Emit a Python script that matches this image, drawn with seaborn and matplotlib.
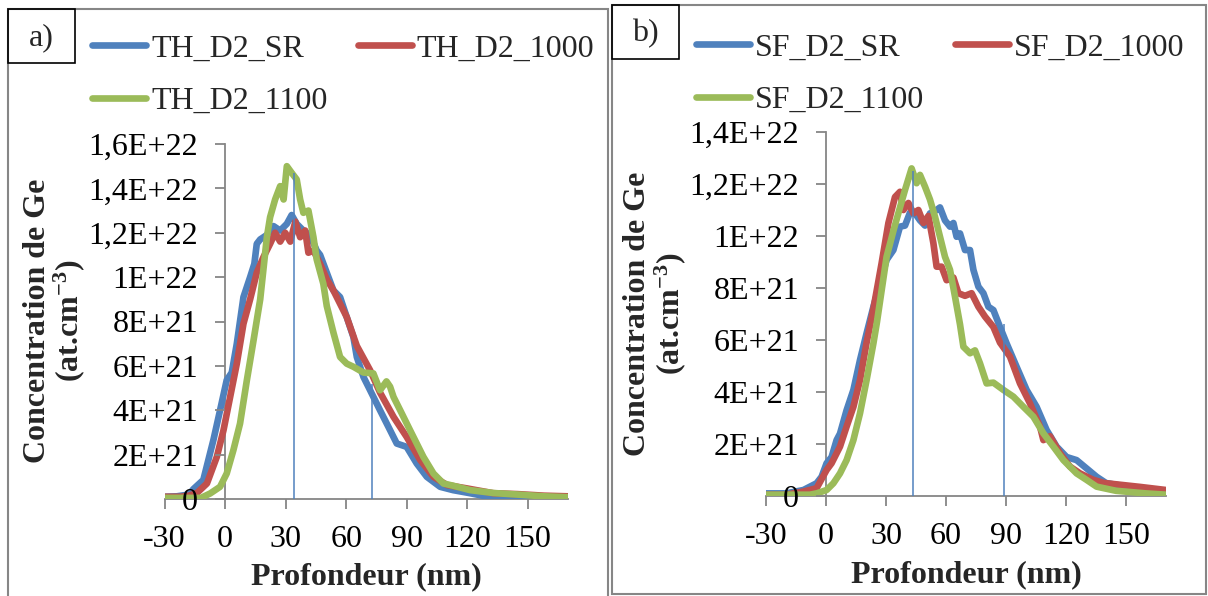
import matplotlib
matplotlib.use("Agg")
import matplotlib.pyplot as plt
import seaborn as sns
import pandas as pd
from matplotlib.patches import Rectangle
from matplotlib.lines import Line2D

# ---------------- data (concentration in units of 1E21 at.cm-3) ----------------
series_a_names = ["TH_D2_SR", "TH_D2_1000", "TH_D2_1100"]
series_b_names = ["SF_D2_SR", "SF_D2_1000", "SF_D2_1100"]

blue_a_x = [-30, -24, -18, -15.7, -10.8, -5.8, -2.5, 0.8, 3.3, 5.8, 9.1, 12.4, 14.5, 15.7, 17.4, 20.7, 24, 27.3,
            30.6, 33, 35.5, 38.8, 42.1, 45.4, 47.1, 50.4, 53.7, 57, 60.3, 63.6, 65.3, 68.6, 71.9, 76.8, 81.8, 85.1,
            90, 95, 100, 106.6, 113, 121.5, 133, 145, 158, 170]
blue_a_y = [0.1, 0.12, 0.2, 0.45, 0.86, 2.66, 4.0, 5.36, 5.7, 7.0, 9.1, 10.0, 10.6, 11.5, 11.7, 11.9, 12.3, 12.1,
            12.4, 12.8, 12.4, 12.1, 11.9, 11.2, 11.0, 10.2, 9.4, 9.1, 8.2, 7.3, 6.4, 5.5, 4.9, 4.0, 3.1, 2.5,
            2.35, 1.6, 1.0, 0.55, 0.4, 0.26, 0.05, 0.12, 0.08, 0.1]

red_a_x = [-30, -22, -18, -14, -9, -4.1, -0.8, 2.5, 5.8, 9.1, 12.4, 15.7, 19, 22.3, 24.8, 27.3, 29.8, 32.3, 34.8,
           37.2, 39.7, 41.3, 43.8, 47.1, 50.4, 53.7, 57, 60.3, 65.3, 71.9, 76.8, 83.5, 90, 96.7, 103.3, 110, 119.7,
           133, 145, 158, 170]
red_a_y = [0.1, 0.1, 0.15, 0.27, 0.7, 1.9, 3.1, 4.6, 6.1, 7.9, 9.0, 10.2, 10.9, 11.5, 12.0, 11.6, 12.0, 11.6, 12.5,
           11.8, 12.1, 11.1, 11.2, 10.6, 9.9, 9.4, 8.8, 8.2, 6.9, 5.8, 4.8, 3.7, 2.8, 1.76, 1.0, 0.63, 0.48,
           0.26, 0.22, 0.15, 0.12]

green_a_x = [-30, -20, -12, -7.4, -2.5, 0.8, 4.1, 7.4, 10.8, 14, 17.4, 20.7, 22.3, 24.8, 27.3, 29, 30.6, 33, 35.5,
             37.2, 38.8, 41.3, 43.8, 45.4, 48.7, 50.4, 53.7, 57, 60.3, 63.6, 68.6, 73.5, 76.8, 80, 81.8, 83.5, 86.8,
             91.7, 98.3, 103.3, 108.2, 113, 121.5, 133, 145, 158, 170]
green_a_y = [0.05, 0.05, 0.05, 0.25, 0.55, 1.15, 2.2, 3.4, 5.36, 7.1, 9.0, 11.8, 12.7, 13.5, 14.1, 13.5, 15.0, 14.7,
             14.4, 13.5, 12.9, 13.0, 11.8, 10.8, 9.7, 8.7, 7.5, 6.4, 6.1, 5.96, 5.7, 5.66, 4.9, 5.3, 5.06, 4.6, 4.0,
             3.1, 1.9, 1.15, 0.7, 0.6, 0.4, 0.27, 0.2, 0.12, 0.08]

blue_b_x = [-30, -20, -11.3, -4.7, -2.2, 0.3, 2.8, 5.3, 7, 10.3, 13.7, 17, 20.3, 23.7, 27, 30.3, 33.7, 37, 39.5, 42,
            44.5, 47, 49.5, 52, 55.3, 57, 59.5, 62, 63.7, 65.3, 67, 69.5, 72, 73.7, 76.2, 78.7, 81.2, 83.7, 87, 90.3,
            95.3, 100.3, 105.3, 110.3, 115.3, 120.3, 125.3, 130.3, 135.3, 140, 154.5, 170]
blue_b_y = [0.1, 0.1, 0.23, 0.49, 0.74, 1.26, 1.5, 2.15, 2.4, 3.3, 4.08, 5.23, 6.26, 7.28, 8.18, 9.08, 9.46, 10.36,
            10.4, 10.9, 10.87, 10.6, 10.4, 10.87, 11.0, 11.1, 10.6, 10.36, 10.5, 9.97, 10.1, 9.46, 9.46, 8.7, 8.05,
            7.8, 7.28, 7.15, 6.5, 5.87, 4.97, 4.08, 3.43, 2.54, 1.9, 1.5, 1.38, 1.06, 0.74, 0.5, 0.3, 0.17]

red_b_x = [-30, -20, -11.3, -4.7, 0.3, 2.8, 7, 10.3, 13.7, 17, 20.3, 23.7, 27.8, 31.2, 34.5, 37, 38.7, 41.2, 43.7,
           46.2, 48.7, 51.2, 53.7, 55.3, 57.8, 60.3, 63.7, 66.2, 69.5, 72.8, 76.2, 79.5, 83.7, 87, 92, 97, 102, 107,
           108.7, 112, 117, 122, 127, 133.7, 139, 157, 170]
red_b_y = [0.05, 0.05, 0.17, 0.3, 1.0, 1.26, 1.9, 2.67, 3.43, 4.46, 5.9, 7.2, 8.95, 10.5, 11.5, 11.7, 11.0, 11.27,
           10.87, 11.0, 10.5, 10.77, 9.72, 8.82, 8.82, 8.3, 8.4, 7.8, 7.7, 7.8, 7.28, 6.9, 6.5, 5.9, 5.36, 4.33,
           3.56, 2.67, 2.15, 2.3, 1.64, 1.13, 0.87, 0.62, 0.5, 0.35, 0.23]

green_b_x = [-30, -15, -8, -4.7, 0.3, 3.7, 7, 10.3, 13.7, 17, 20.3, 23.7, 25.5, 27.8, 30.3, 33.7, 37, 39.5, 42.8,
             45.3, 47, 49.5, 52, 54.5, 57, 59.5, 62, 64.5, 67, 68.7, 72, 74.5, 77, 80.3, 83.7, 88.7, 93.7, 98.7,
             103.7, 108.7, 113.7, 118.7, 125.3, 130.3, 135.3, 145, 160, 170]
green_b_y = [0.05, 0.05, 0.05, 0.1, 0.23, 0.49, 0.87, 1.38, 2.15, 3.18, 4.46, 5.87, 6.7, 7.9, 9.2, 10.2, 11.1, 11.77,
             12.6, 12.03, 12.35, 11.9, 11.4, 10.74, 9.97, 9.2, 8.7, 7.67, 6.6, 5.74, 5.49, 5.6, 5.1, 4.33, 4.36,
             4.08, 3.82, 3.43, 3.05, 2.41, 1.9, 1.38, 0.87, 0.62, 0.36, 0.2, 0.1, 0.05]

# thin vertical marker lines (x position, top value)
marker_a_x = [34, 73]
marker_a_top = [14.7, 5.2]
marker_b_x = [43.7, 89.2]
marker_b_top = [12.5, 6.6]

x_ticks = [-30, 0, 30, 60, 90, 120, 150]
x_tick_labels = ["-30", "0", "30", "60", "90", "120", "150"]
y_ticks_a = [0, 2, 4, 6, 8, 10, 12, 14, 16]
y_tick_labels_a = ["0", "2E+21", "4E+21", "6E+21", "8E+21", "1E+22", "1,2E+22", "1,4E+22", "1,6E+22"]
y_ticks_b = [0, 2, 4, 6, 8, 10, 12, 14]
y_tick_labels_b = ["0", "2E+21", "4E+21", "6E+21", "8E+21", "1E+22", "1,2E+22", "1,4E+22"]

SCALE = 1e21
colors = ["#4F81BD", "#C0504D", "#9BBB59"]
GREY = "#868686"
FS = 23
LW = 4.8

# ---------------- style ----------------
sns.set_style("white")
plt.rcParams["font.family"] = ["Liberation Serif", "DejaVu Serif"]
plt.rcParams["mathtext.fontset"] = "custom"
plt.rcParams["mathtext.rm"] = "Liberation Serif"
plt.rcParams["mathtext.bf"] = "Liberation Serif:bold"
plt.rcParams["mathtext.it"] = "Liberation Serif:italic"

W, H = 1208, 596
fig = plt.figure(figsize=(W / 100, H / 100), dpi=100)


def fx(px):
    return px / W


def fy(py):
    return 1 - py / H


def draw_panel(rect, xs, ys, names, mk_x, mk_top, yticks, ylabels, ymax, legend_xy, ylab_xy, xlab_xy):
    ax = fig.add_axes(rect)
    for x, y, name, c in zip(xs, ys, names, colors):
        df = pd.DataFrame({"x": x, "y": [v * SCALE for v in y]})
        sns.lineplot(data=df, x="x", y="y", ax=ax, color=c, linewidth=LW, estimator=None,
                     solid_capstyle="round", solid_joinstyle="round", legend=False)
    ax.vlines(mk_x, 0, [t * SCALE for t in mk_top], color=colors[0], linewidth=1.1, zorder=5)
    ax.set_xlim(-30, 170)
    ax.set_ylim(0, ymax * SCALE)
    ax.set_xticks(x_ticks)
    ax.set_xticklabels(x_tick_labels)
    ax.set_yticks([t * SCALE for t in yticks])
    ax.set_yticklabels(ylabels)
    ax.set_xlabel("")
    ax.set_ylabel("")
    ax.set_axisbelow(False)
    for s in ["top", "right"]:
        ax.spines[s].set_visible(False)
    ax.spines["left"].set_position(("data", 0))
    for s in ["left", "bottom"]:
        ax.spines[s].set_color(GREY)
        ax.spines[s].set_linewidth(1.3)
        ax.spines[s].set_zorder(1)
    ax.tick_params(axis="both", direction="out", length=7.5, width=1.3, color=GREY,
                   labelsize=FS, labelcolor="black")
    ax.tick_params(axis="y", pad=12, left=True)
    ax.tick_params(axis="x", pad=11, bottom=True)
    ax.patch.set_alpha(0)

    handles = [Line2D([], [], color=c, linewidth=LW, solid_capstyle="round") for c in colors]
    order = [0, 2, 1]
    fig.legend([handles[i] for i in order], [names[i] for i in order],
               loc="upper left", bbox_to_anchor=(fx(legend_xy[0]), fy(legend_xy[1])),
               bbox_transform=fig.transFigure, ncol=2, frameon=False, fontsize=FS,
               handlelength=1.7, handletextpad=0.15, columnspacing=0.95,
               labelspacing=0.72, borderpad=0, borderaxespad=0)

    fig.text(fx(ylab_xy[0]), fy(ylab_xy[1]), "Concentration de Ge\n(at.cm$^{\\mathbf{-3}}$)",
             rotation=90, ha="center", va="center", multialignment="center",
             fontsize=FS, fontweight="bold", linespacing=1.0)
    fig.text(fx(xlab_xy[0]), fy(xlab_xy[1]), "Profondeur (nm)", ha="center", va="center",
             fontsize=FS, fontweight="bold")
    return ax


# panel frames
fig.add_artist(Rectangle((fx(8), fy(600)), fx(608) - fx(8), fy(9) - fy(600), transform=fig.transFigure,
                         fill=False, edgecolor=GREY, linewidth=1.5))
fig.add_artist(Rectangle((fx(612), fy(594)), fx(1206) - fx(612), fy(5) - fy(594), transform=fig.transFigure,
                         fill=False, edgecolor=GREY, linewidth=1.5))
# label boxes
fig.add_artist(Rectangle((fx(8), fy(63)), fx(75) - fx(8), fy(9) - fy(63), transform=fig.transFigure,
                         fill=False, edgecolor="black", linewidth=1.2))
fig.add_artist(Rectangle((fx(612), fy(59)), fx(679) - fx(612), fy(5) - fy(59), transform=fig.transFigure,
                         fill=False, edgecolor="black", linewidth=1.2))
fig.text(fx(41), fy(38), "a)", ha="center", va="center", fontsize=FS)
fig.text(fx(645), fy(34), "b)", ha="center", va="center", fontsize=FS)

draw_panel([fx(164.6), fy(499), (568 - 164.6) / W, (499 - 144) / H],
           [blue_a_x, red_a_x, green_a_x], [blue_a_y, red_a_y, green_a_y], series_a_names,
           marker_a_x, marker_a_top, y_ticks_a, y_tick_labels_a, 16,
           (92, 34), (55, 321), (366, 577))
draw_panel([fx(766), fy(496), 400 / W, 364 / H],
           [blue_b_x, red_b_x, green_b_x], [blue_b_y, red_b_y, green_b_y], series_b_names,
           marker_b_x, marker_b_top, y_ticks_b, y_tick_labels_b, 14,
           (696, 33), (655.5, 314), (966, 575))

fig.savefig("out.png", dpi=100)
